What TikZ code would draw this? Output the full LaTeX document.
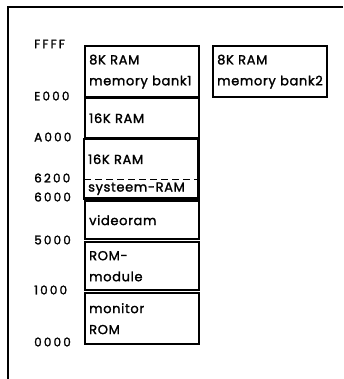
\documentclass[tikz,border=0pt]{standalone}
\usepackage{fontspec}
\setmainfont{Poppins}[LetterSpace=5, FakeBold=1.6]
\newfontfamily\adrfont{Poppins}[LetterSpace=18, FakeBold=1.8]
\usetikzlibrary{positioning}

\begin{document}
\begin{tikzpicture}[
  x=1pt, y=-1pt, font=\fontsize{13}{21}\selectfont,
  mbox/.style={draw=black, line width=2.4pt, anchor=north west, align=left,
               minimum width=114pt, text width=106pt, inner xsep=3.5pt, inner ysep=0pt},
  mcell/.style={anchor=north west, align=left, minimum width=114pt,
                text width=106pt, inner xsep=3.5pt, inner ysep=0pt},
  maddr/.style={anchor=west, inner sep=0pt, font=\adrfont\fontsize{12}{13}\selectfont},
  mframe/.style={line width=1.3pt},
]
  \useasboundingbox (0,0) rectangle (343,379);
  % 1. frame (only left and top edge visible)
  \draw[mframe] (343,7) -- (8,7) -- (8,379);
  % 2. memory blocks
  \node[mbox, minimum height=51pt] (bank1) at (84,45) {8K RAM\\memory bank1};
  \node[mbox, minimum height=51pt] (bank2) at (212,45) {8K RAM\\memory bank2};
  \node[mbox, minimum height=40pt] (ram16a) at (84,97) {16K RAM};
  \node[mcell, minimum height=40pt] (ram16b) at (84,139) {16K RAM};
  \node[mcell, minimum height=19pt] (sysram) at (84,179) {systeem-RAM};
  \draw[line width=2.4pt] (ram16b.north west) rectangle (sysram.south east);
  \draw[line width=1.5pt, dash pattern=on 7pt off 4pt] (ram16b.south west) -- (ram16b.south east);
  \node[mbox, minimum height=38pt] (video) at (84,200) {videoram};
  \node[mbox, minimum height=48pt] (rommod) at (84,241) {ROM-\\module};
  \node[mbox, minimum height=51pt] (monrom) at (84,292) {monitor\\ROM};
  % 3. addresses
  \foreach \adr/\yy in {FFFF/44,E000/96,A000/137,6200/178,6000/197,5000/240,1000/290,0000/342}
    \node[maddr] (a\adr) at (34,\yy) {\adr};
\end{tikzpicture}
\end{document}
